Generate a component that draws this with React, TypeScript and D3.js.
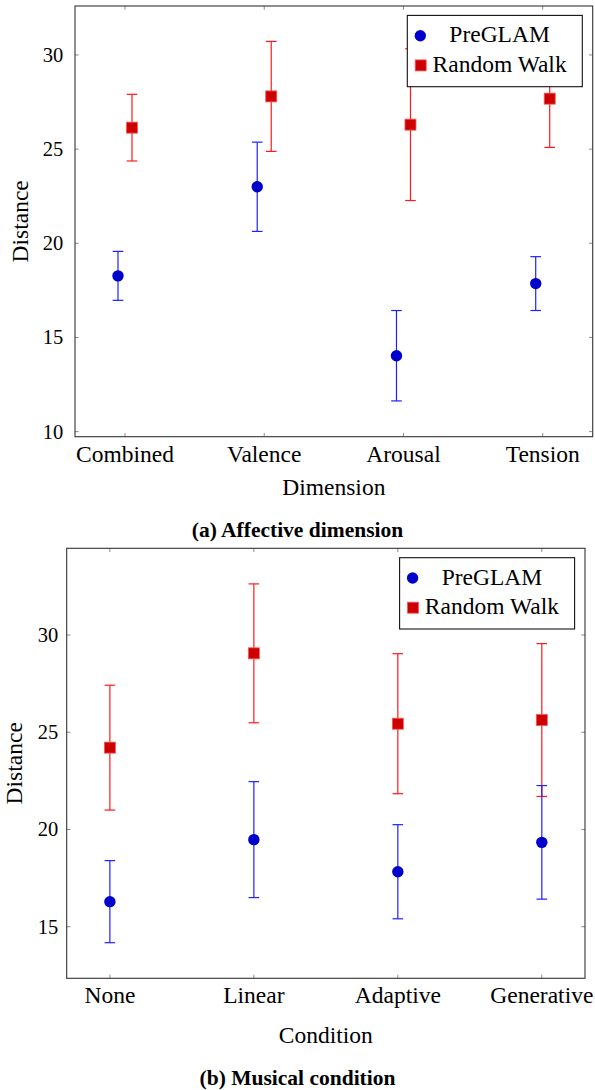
import React from "react";
import * as d3 from "d3";

const dimCategories = ["Combined", "Valence", "Arousal", "Tension"];
const dimPreglamMean = [18.27, 23.0, 14.03, 17.86];
const dimPreglamErr = [1.3, 2.37, 2.4, 1.43];
const dimRandomMean = [26.14, 27.8, 26.3, 27.68];
const dimRandomErr = [1.77, 2.92, 4.03, 2.59];
const dimYTicks = [10, 15, 20, 25, 30];

const condCategories = ["None", "Linear", "Adaptive", "Generative"];
const condPreglamMean = [16.29, 19.48, 17.83, 19.34];
const condPreglamErr = [2.11, 2.98, 2.42, 2.92];
const condRandomMean = [24.21, 29.06, 25.44, 25.63];
const condRandomErr = [3.21, 3.57, 3.6, 3.93];
const condYTicks = [15, 20, 25, 30];

const seriesNames = ["PreGLAM", "Random Walk"];

const FONT = "'Liberation Serif', 'Times New Roman', serif";
const BLUE_FILL = "#0000cc";
const BLUE_LINE = "#2020ff";
const RED_FILL = "#cc0000";
const RED_LINE = "#ff1a1a";

type PanelProps = {
  categories: string[];
  pMean: number[];
  pErr: number[];
  rMean: number[];
  rErr: number[];
  yTicks: number[];
  left: number;
  top: number;
  right: number;
  bottom: number;
  yDomain: [number, number];
  xPad: number;
  offset: number;
  yTickGap: number;
  xTickBase: number;
  xLabelBase: number;
  xLabel: string;
  yLabelX: number;
  caption: string;
  captionBase: number;
};

function Panel(p: PanelProps) {
  const x = d3
    .scaleLinear()
    .domain([-p.xPad, p.categories.length - 1 + p.xPad])
    .range([p.left, p.right]);
  const y = d3.scaleLinear().domain(p.yDomain).range([p.bottom, p.top]);
  const tickLen = 3.7;
  const cap = 5.3;
  const boxW = 175;
  const boxH = 71.3;
  const bx = p.right - 10.4 - boxW;
  const by = p.top + 9.4;

  const errBar = (cx: number, m: number, e: number, color: string, key: string) => (
    <g key={key} stroke={color} strokeWidth={1.2} fill="none">
      <line x1={cx} x2={cx} y1={y(m - e)} y2={y(m + e)} />
      <line x1={cx - cap} x2={cx + cap} y1={y(m + e)} y2={y(m + e)} />
      <line x1={cx - cap} x2={cx + cap} y1={y(m - e)} y2={y(m - e)} />
    </g>
  );

  return (
    <g fontFamily={FONT} fill="#000">
      {/* ticks */}
      <g stroke="#8c8c8c" strokeWidth={1}>
        {p.yTicks.map((t) => (
          <g key={"yt" + t}>
            <line x1={p.left} x2={p.left + tickLen} y1={y(t)} y2={y(t)} />
            <line x1={p.right} x2={p.right - tickLen} y1={y(t)} y2={y(t)} />
          </g>
        ))}
        {p.categories.map((c, i) => (
          <g key={"xt" + c}>
            <line x1={x(i)} x2={x(i)} y1={p.bottom} y2={p.bottom - tickLen} />
            <line x1={x(i)} x2={x(i)} y1={p.top} y2={p.top + tickLen} />
          </g>
        ))}
      </g>
      {/* data */}
      {p.categories.map((c, i) =>
        errBar(x(i) + p.offset, p.rMean[i], p.rErr[i], RED_LINE, "re" + i)
      )}
      {p.categories.map((c, i) =>
        errBar(x(i) - p.offset, p.pMean[i], p.pErr[i], BLUE_LINE, "pe" + i)
      )}
      {p.categories.map((c, i) => (
        <rect
          key={"rm" + i}
          x={x(i) + p.offset - 5.5}
          y={y(p.rMean[i]) - 5.5}
          width={11}
          height={11}
          fill={RED_FILL}
          stroke="#ff5555"
          strokeWidth={0.8}
        />
      ))}
      {p.categories.map((c, i) => (
        <circle
          key={"pm" + i}
          cx={x(i) - p.offset}
          cy={y(p.pMean[i])}
          r={5.7}
          fill={BLUE_FILL}
        />
      ))}
      {/* frame */}
      <rect
        x={p.left}
        y={p.top}
        width={p.right - p.left}
        height={p.bottom - p.top}
        fill="none"
        stroke="#333"
        strokeWidth={1.1}
      />
      {/* tick labels */}
      {p.yTicks.map((t) => (
        <text
          key={"yl" + t}
          x={p.left - p.yTickGap}
          y={y(t)}
          dy="0.34em"
          textAnchor="end"
          fontSize={20.5}
        >
          {t}
        </text>
      ))}
      {p.categories.map((c, i) => (
        <text key={"xl" + c} x={x(i)} y={p.xTickBase} textAnchor="middle" fontSize={23.5}>
          {c}
        </text>
      ))}
      <text
        x={(p.left + p.right) / 2}
        y={p.xLabelBase}
        textAnchor="middle"
        fontSize={23.5}
      >
        {p.xLabel}
      </text>
      <text
        transform={`translate(${p.yLabelX},${(p.top + p.bottom) / 2}) rotate(-90)`}
        textAnchor="middle"
        fontSize={23.5}
      >
        Distance
      </text>
      {/* legend */}
      <rect x={bx} y={by} width={boxW} height={boxH} fill="#fff" stroke="#111" strokeWidth={1.1} />
      <circle cx={bx + 13} cy={by + 20.3} r={5.7} fill={BLUE_FILL} />
      <rect
        x={bx + 13.4 - 5.5}
        y={by + 50 - 5.5}
        width={11}
        height={11}
        fill={RED_FILL}
        stroke="#ff5555"
        strokeWidth={0.8}
      />
      <text x={bx + 92.3} y={by + 26.8} textAnchor="middle" fontSize={23.5}>
        {seriesNames[0]}
      </text>
      <text x={bx + 92.3} y={by + 56.5} textAnchor="middle" fontSize={23.5}>
        {seriesNames[1]}
      </text>
      {/* caption */}
      <text x={297.5} y={p.captionBase} textAnchor="middle" fontSize={21.5} fontWeight="bold">
        {p.caption}
      </text>
    </g>
  );
}

export default function App() {
  return (
    <svg
      width={595}
      height={1090}
      style={{ position: "absolute", left: 0, top: 0, display: "block", background: "#fff" }}
    >
      <rect x={0} y={0} width={595} height={1090} fill="#fff" />
      <Panel
        categories={dimCategories}
        pMean={dimPreglamMean}
        pErr={dimPreglamErr}
        rMean={dimRandomMean}
        rErr={dimRandomErr}
        yTicks={dimYTicks}
        left={75}
        top={6}
        right={592.7}
        bottom={436.7}
        yDomain={[9.73, 32.6]}
        xPad={0.359}
        offset={7}
        yTickGap={11.7}
        xTickBase={462}
        xLabelBase={495}
        xLabel="Dimension"
        yLabelX={28.3}
        caption="(a) Affective dimension"
        captionBase={537}
      />
      <Panel
        categories={condCategories}
        pMean={condPreglamMean}
        pErr={condPreglamErr}
        rMean={condRandomMean}
        rErr={condRandomErr}
        yTicks={condYTicks}
        left={66.7}
        top={548.3}
        right={585}
        bottom={978.3}
        yDomain={[12.35, 34.46]}
        xPad={0.3}
        offset={0}
        yTickGap={8.4}
        xTickBase={1003.3}
        xLabelBase={1042.5}
        xLabel="Condition"
        yLabelX={21.7}
        caption="(b) Musical condition"
        captionBase={1085}
      />
    </svg>
  );
}
